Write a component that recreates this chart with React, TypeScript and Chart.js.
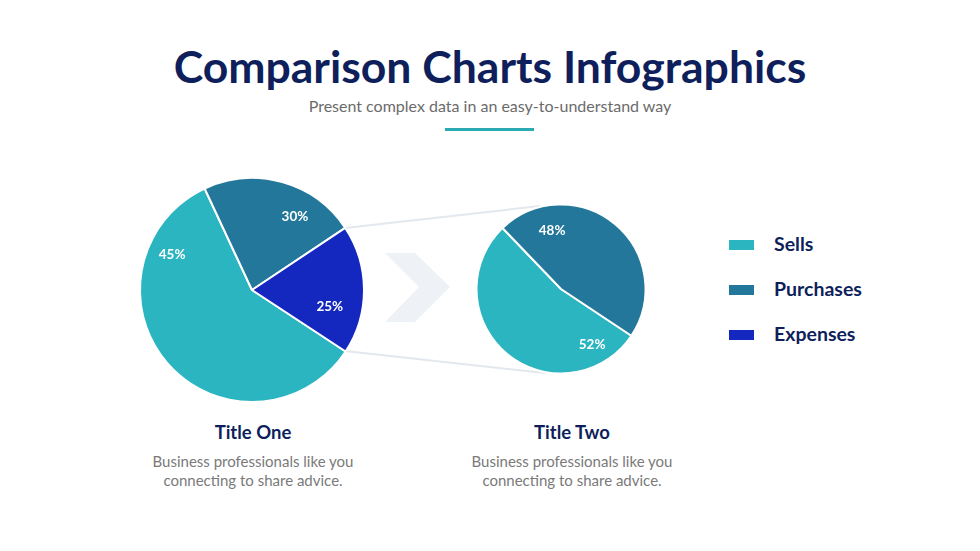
import React, { useEffect, useRef } from "react";
import { Chart, registerables } from "chart.js";

Chart.register(...registerables);

const categories = ["Sells", "Purchases", "Expenses"];
const colors = ["#2bb5c0", "#23779a", "#1428c0"];

// slice sizes as drawn (percent of circle)
const leftValues = [58.8, 22.6, 18.6];
const leftLabels = ["45%", "30%", "25%"];
const rightValues = [53.5, 46.5];
const rightLabels = ["52%", "48%"];

const titleText = "Comparison Charts Infographics";
const subtitleText = "Present complex data in an easy-to-understand way";
const blockTitles = ["Title One", "Title Two"];
const blockDesc = ["Business professionals like you", "connecting to share advice."];

const NAVY = "#0e1f5b";

const labelPlugin = {
  id: "sliceLabels",
  afterDatasetsDraw(chart: any, _args: any, opts: any) {
    const ctx = chart.ctx;
    const meta = chart.getDatasetMeta(0);
    const texts: string[] = opts.texts || [];
    const place: { f: number; r: number }[] = opts.place || [];
    ctx.save();
    ctx.fillStyle = "#ffffff";
    ctx.font = "bold 13.5px Lato, 'Open Sans', sans-serif";
    ctx.textAlign = "center";
    ctx.textBaseline = "middle";
    meta.data.forEach((arc: any, i: number) => {
      const p = arc.getProps(["x", "y", "startAngle", "endAngle", "outerRadius"], true);
      const pl = place[i] || { f: 0.5, r: 0.7 };
      const a = p.startAngle + pl.f * (p.endAngle - p.startAngle);
      const d = pl.r * p.outerRadius;
      ctx.fillText(texts[i] ?? "", p.x + Math.cos(a) * d, p.y + Math.sin(a) * d);
    });
    ctx.restore();
  },
};

function Pie(props: {
  values: number[];
  labels: string[];
  cats: string[];
  cols: string[];
  radius: number;
  rotation: number;
  place: { f: number; r: number }[];
  style: React.CSSProperties;
}) {
  const ref = useRef<HTMLCanvasElement>(null);
  useEffect(() => {
    if (!ref.current) return;
    const chart = new Chart(ref.current, {
      type: "pie",
      data: {
        labels: props.cats,
        datasets: [
          {
            data: props.values,
            backgroundColor: props.cols,
            borderColor: "#ffffff",
            borderWidth: 2,
            radius: props.radius,
          } as any,
        ],
      },
      options: {
        animation: false,
        responsive: false,
        rotation: props.rotation,
        layout: { padding: 0 },
        plugins: {
          legend: { display: false },
          tooltip: { enabled: false },
          sliceLabels: { texts: props.labels, place: props.place },
        } as any,
      },
      plugins: [labelPlugin],
    });
    return () => chart.destroy();
  }, []);
  return <canvas ref={ref} width={props.style.width as number} height={props.style.height as number} style={props.style} />;
}

export default function App() {
  useEffect(() => {
    document.body.style.margin = "0";
  }, []);
  const abs = (s: React.CSSProperties): React.CSSProperties => ({ position: "absolute", ...s });
  return (
    <div
      style={{
        position: "absolute",
        left: 0,
        top: 0,
        width: 980,
        height: 551,
        background: "#ffffff",
        overflow: "hidden",
        fontFamily: "Lato, 'Open Sans', sans-serif",
      }}
    >
      <div
        style={abs({
          left: 0,
          top: 38,
          width: 980,
          textAlign: "center",
          fontSize: 44.5,
          lineHeight: "56px",
          fontWeight: 700,
          color: NAVY,
        })}
      >
        {titleText}
      </div>
      <div
        style={abs({
          left: 0,
          top: 96,
          width: 980,
          textAlign: "center",
          fontSize: 16,
          lineHeight: "20px",
          color: "#6b6b6b",
        })}
      >
        {subtitleText}
      </div>
      <div style={abs({ left: 445, top: 128, width: 89, height: 3, background: "#2aabb3" })} />

      <svg width={980} height={551} style={abs({ left: 0, top: 0 })}>
        <line x1={345} y1={228} x2={540} y2={206} stroke="#e3e8ee" strokeWidth={2} />
        <line x1={345} y1={351} x2={545} y2={373} stroke="#e3e8ee" strokeWidth={2} />
        <polygon points="385,253 415,253 450,287 415,322 385,322 419,287" fill="#eef1f5" />
      </svg>

      <Pie
        values={leftValues}
        labels={leftLabels}
        cats={categories}
        cols={colors}
        radius={112}
        rotation={123.3}
        place={[
          { f: 0.806, r: 0.78 },
          { f: 0.68, r: 0.76 },
          { f: 0.68, r: 0.71 },
        ]}
        style={abs({ left: 132, top: 170, width: 240, height: 240 })}
      />
      <Pie
        values={rightValues}
        labels={rightLabels}
        cats={categories.slice(0, 2)}
        cols={colors.slice(0, 2)}
        radius={84.5}
        rotation={123.6}
        place={[
          { f: 0.14, r: 0.75 },
          { f: 0.21, r: 0.7 },
        ]}
        style={abs({ left: 471, top: 199, width: 180, height: 180 })}
      />

      {categories.map((c, i) => (
        <div key={c}>
          <div
            style={abs({
              left: 729,
              top: 240 + i * 45,
              width: 25,
              height: 10,
              background: colors[i],
            })}
          />
          <div
            style={abs({
              left: 774,
              top: 232 + i * 45,
              fontSize: 19.5,
              lineHeight: "24px",
              fontWeight: 700,
              color: NAVY,
              whiteSpace: "nowrap",
            })}
          >
            {c}
          </div>
        </div>
      ))}

      {[253, 572].map((cx, i) => (
        <div key={i}>
          <div
            style={abs({
              left: cx - 150,
              top: 420,
              width: 300,
              textAlign: "center",
              fontSize: 18.5,
              lineHeight: "24px",
              fontWeight: 700,
              color: NAVY,
            })}
          >
            {blockTitles[i]}
          </div>
          {blockDesc.map((t, j) => (
            <div
              key={j}
              style={abs({
                left: cx - 150,
                top: 451 + j * 19,
                width: 300,
                textAlign: "center",
                fontSize: 15,
                lineHeight: "20px",
                color: "#7a7a7a",
              })}
            >
              {t}
            </div>
          ))}
        </div>
      ))}
    </div>
  );
}
